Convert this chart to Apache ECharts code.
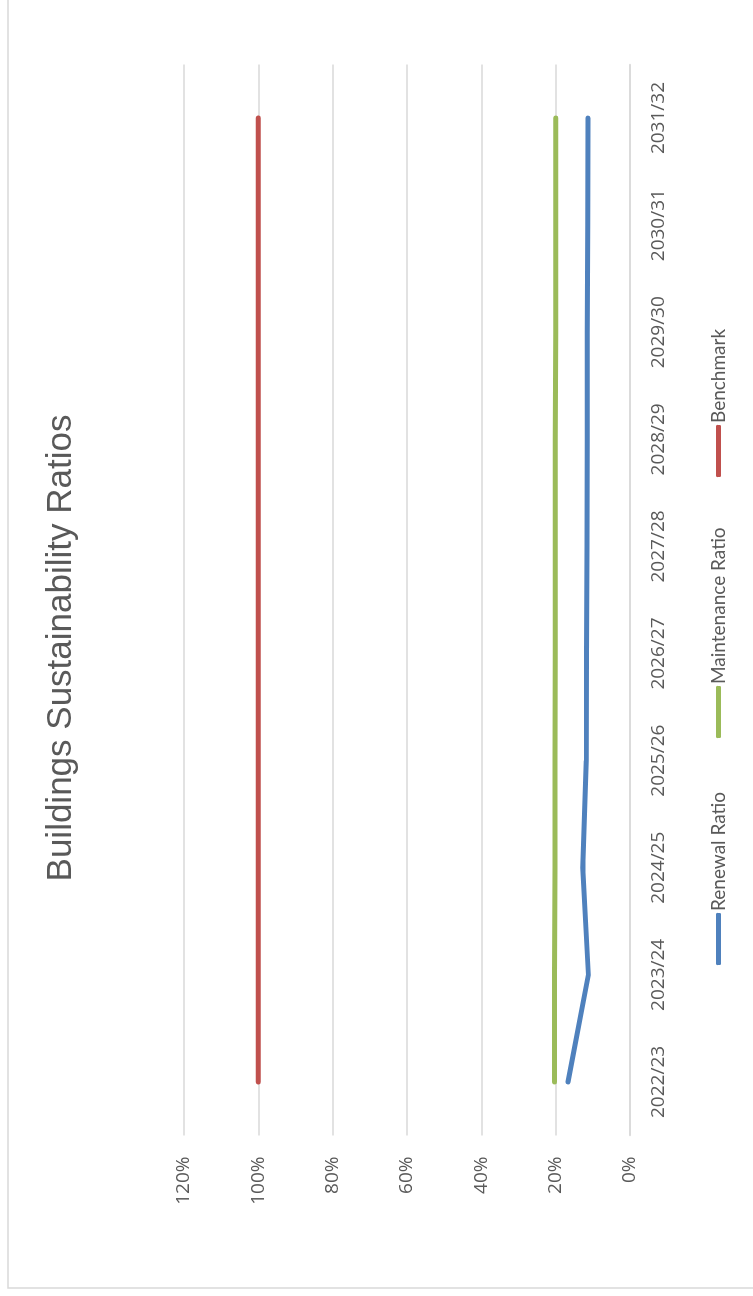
<!DOCTYPE html>
<html>
<head>
<meta charset="utf-8">
<script src="https://cdn.jsdelivr.net/npm/echarts@6/dist/echarts.min.js"></script>
<style>
  html, body { margin: 0; padding: 0; background: #ffffff; overflow: hidden; }
  body { width: 753px; height: 1296px; position: relative; }
  /* The chart is laid out landscape and turned a quarter turn counter-clockwise */
  #chart {
    position: absolute; left: 0; top: 0;
    width: 1296px; height: 753px;
    transform-origin: 0 0;
    transform: translateY(1296px) rotate(-90deg);
  }
</style>
</head>
<body>
<div id="chart"></div>
<script>
// Financial years shown along the category axis
const years = ['2022/23', '2023/24', '2024/25', '2025/26', '2026/27',
               '2027/28', '2028/29', '2029/30', '2030/31', '2031/32'];

// Ratios in percent
const renewalRatio     = [16.7, 11.2, 12.7, 11.8, 11.7, 11.6, 11.5, 11.5, 11.4, 11.3];
const maintenanceRatio = [20.3, 20.3, 20.2, 20.2, 20.1, 20.1, 20.1, 20.0, 20.0, 20.0];
const benchmark        = [100, 100, 100, 100, 100, 100, 100, 100, 100, 100];

// Value axis ticks
const valueTicks = [0, 20, 40, 60, 80, 100, 120];

const seriesNames  = ['Renewal Ratio', 'Maintenance Ratio', 'Benchmark'];
const seriesColors = ['#4F81BD', '#9BBB59', '#C0504D'];
const seriesData   = [renewalRatio, maintenanceRatio, benchmark];

const labelFont = '"Open Sans", "Noto Sans", sans-serif';
const legendFont = 'Lato, "Open Sans", sans-serif';
const textGrey = '#595959';

// One legend entry per series, each placed at its own offset
const legendLefts = [331, 558, 819];

const chart = echarts.init(document.getElementById('chart'), null, { renderer: 'canvas' });

chart.setOption({
  animation: false,
  backgroundColor: '#ffffff',
  graphic: [{
    type: 'rect',
    shape: { x: 8, y: 8, width: 1400, height: 900 },
    style: { fill: 'none', stroke: '#D9D9D9', lineWidth: 1.5 },
    silent: true
  }],
  title: {
    text: 'Buildings Sustainability Ratios',
    left: 'center',
    top: 39,
    textStyle: {
      fontFamily: '"Liberation Sans", Arial, sans-serif',
      fontSize: 35,
      fontWeight: 'normal',
      color: textGrey
    }
  },
  legend: seriesNames.map((name, i) => ({
    data: [name],
    left: legendLefts[i],
    top: 709,
    padding: 0,
    itemWidth: 52,
    itemHeight: 5,
    icon: 'roundRect',
    selectedMode: false,
    textStyle: { fontFamily: legendFont, fontSize: 19, color: textGrey, padding: [0, 0, 0, -3] }
  })),
  grid: { left: 160.5, right: 64.5, top: 184, bottom: 123, containLabel: false },
  xAxis: {
    type: 'category',
    data: years,
    boundaryGap: true,
    axisLine: { show: true, lineStyle: { color: '#D9D9D9', width: 1.5 } },
    axisTick: { show: false },
    axisLabel: { margin: 19, fontFamily: labelFont, fontSize: 19, color: textGrey }
  },
  yAxis: {
    type: 'value',
    min: valueTicks[0],
    max: valueTicks[valueTicks.length - 1],
    interval: valueTicks[1] - valueTicks[0],
    axisLine: { show: false },
    axisTick: { show: false },
    splitLine: { lineStyle: { color: '#D9D9D9', width: 1.5 } },
    axisLabel: {
      margin: 21,
      fontFamily: labelFont, fontSize: 19, color: textGrey,
      formatter: v => v + '%'
    }
  },
  series: seriesNames.map((name, i) => ({
    name,
    type: 'line',
    data: seriesData[i],
    showSymbol: false,
    symbol: 'none',
    color: seriesColors[i],
    lineStyle: { width: 5, color: seriesColors[i], cap: 'round', join: 'round' }
  }))
});
</script>
</body>
</html>
